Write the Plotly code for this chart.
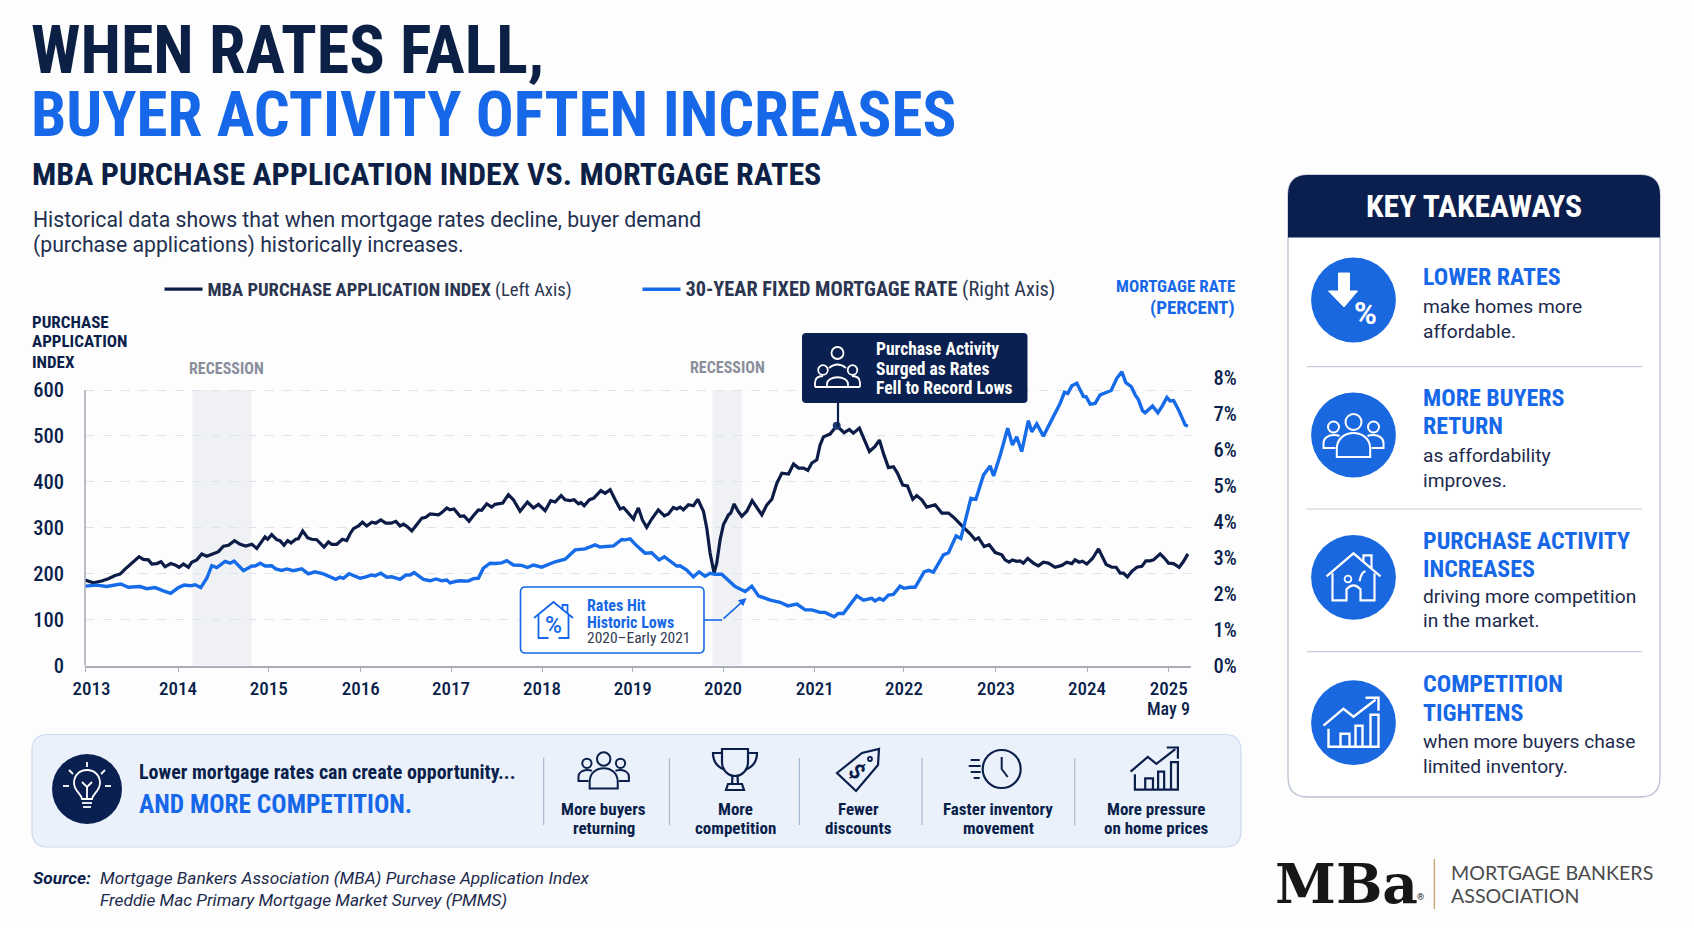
import plotly.graph_objects as go

# series, x is decimal year
index_years = [
    2013.000, 2013.092, 2013.183, 2013.256, 2013.330, 2013.385, 2013.440, 2013.495, 2013.549, 2013.593, 2013.641, 2013.696,
    2013.733, 2013.788, 2013.835, 2013.879, 2013.941, 2013.989, 2014.033, 2014.081, 2014.136, 2014.172, 2014.227, 2014.282,
    2014.337, 2014.410, 2014.465, 2014.520, 2014.575, 2014.641, 2014.703, 2014.766, 2014.832, 2014.886, 2014.960,
    2014.976, 2015.005, 2015.049, 2015.104, 2015.141, 2015.185, 2015.225, 2015.262, 2015.313, 2015.342, 2015.390, 2015.445,
    2015.489, 2015.544, 2015.580, 2015.624, 2015.672, 2015.709, 2015.764, 2015.826, 2015.873, 2015.910, 2015.947, 2016.002,
    2016.046, 2016.093, 2016.148, 2016.192, 2016.247, 2016.302, 2016.361, 2016.412, 2016.459, 2016.496, 2016.533, 2016.588,
    2016.643, 2016.698, 2016.742, 2016.789, 2016.881, 2016.917, 2016.972,
    2017.007, 2017.051, 2017.117, 2017.161, 2017.216, 2017.263, 2017.318, 2017.355, 2017.410, 2017.465, 2017.501, 2017.586,
    2017.648, 2017.703, 2017.776, 2017.857, 2017.923, 2017.978, 2018.051, 2018.113, 2018.161, 2018.227, 2018.271, 2018.326,
    2018.370, 2018.417, 2018.443, 2018.480, 2018.538, 2018.582, 2018.619, 2018.663, 2018.710, 2018.765, 2018.820, 2018.875,
    2018.912, 2018.967, 2019.022,
    2019.038, 2019.075, 2019.119, 2019.166, 2019.221, 2019.294, 2019.360, 2019.404, 2019.459, 2019.496, 2019.533, 2019.569,
    2019.624, 2019.679, 2019.727, 2019.789, 2019.826, 2019.862, 2019.906, 2019.935, 2019.972, 2020.009, 2020.064, 2020.089,
    2020.126, 2020.166, 2020.210, 2020.265, 2020.324, 2020.375, 2020.430, 2020.485, 2020.540, 2020.595, 2020.650, 2020.723,
    2020.778, 2020.833, 2020.888, 2020.935, 2020.979, 2021.034,
    2021.069, 2021.106, 2021.179, 2021.252, 2021.333, 2021.391, 2021.435, 2021.501, 2021.545, 2021.611, 2021.673, 2021.721,
    2021.765, 2021.820, 2021.875, 2021.919, 2021.977, 2022.029, 2022.087, 2022.131, 2022.186, 2022.241, 2022.333, 2022.406,
    2022.479, 2022.534, 2022.644, 2022.717, 2022.772, 2022.809, 2022.871, 2022.926, 2022.992, 2023.065,
    2023.100, 2023.144, 2023.181, 2023.228, 2023.265, 2023.301, 2023.349, 2023.411, 2023.466, 2023.521, 2023.576, 2023.649,
    2023.723, 2023.778, 2023.833, 2023.869, 2023.913, 2023.950, 2023.997, 2024.060, 2024.126, 2024.162, 2024.210, 2024.272,
    2024.320, 2024.364, 2024.400, 2024.444, 2024.492, 2024.547, 2024.602, 2024.646, 2024.693, 2024.730, 2024.803, 2024.858,
    2024.895, 2024.950, 2025.012, 2025.060, 2025.107,
]
index_values = [
    186, 180, 184, 189, 196, 199, 210, 219, 230, 237, 231, 230, 221, 222, 226, 215, 222, 219, 214, 221, 214, 225, 230, 243,
    238, 244, 248, 260, 262, 272, 264, 260, 264, 255, 277,
    280, 275, 285, 274, 272, 262, 272, 267, 275, 276, 293, 278, 275, 274, 267, 258, 269, 264, 264, 275, 272, 287, 298, 304,
    312, 304, 312, 310, 317, 310, 310, 314, 304, 308, 303, 293, 307, 321, 323, 330, 328, 333, 343,
    339, 341, 325, 326, 314, 326, 339, 338, 352, 345, 351, 354, 372, 361, 336, 356, 343, 351, 337, 359, 356, 370, 361, 359,
    361, 352, 355, 348, 361, 364, 372, 381, 375, 383, 361, 341, 344, 332, 319,
    328, 343, 317, 301, 319, 339, 326, 330, 344, 341, 345, 339, 350, 348, 362, 336, 299, 245, 201, 223, 274, 307, 328, 332,
    352, 337, 325, 336, 359, 343, 328, 350, 362, 397, 419, 417, 439, 430, 430, 425, 441, 448,
    480, 498, 504, 522, 507, 514, 506, 517, 495, 466, 477, 491, 462, 431, 433, 419, 393, 391, 362, 370, 361, 345, 350, 332,
    332, 323, 301, 287, 274, 278, 259, 263, 246, 241,
    230, 225, 230, 227, 228, 223, 233, 223, 217, 225, 223, 214, 218, 225, 222, 230, 225, 227, 221, 233, 254, 238, 220, 214,
    214, 201, 201, 193, 205, 214, 216, 228, 228, 230, 243, 232, 223, 222, 214, 227, 243,
]
rate_years = [
    2013.000, 2013.128, 2013.238, 2013.311, 2013.392, 2013.476, 2013.604, 2013.678, 2013.769, 2013.861, 2013.941, 2014.026,
    2014.088, 2014.154, 2014.209, 2014.271, 2014.337, 2014.392, 2014.447, 2014.538, 2014.593, 2014.637, 2014.740, 2014.832,
    2014.868, 2014.923, 2014.978,
    2015.049, 2015.093, 2015.159, 2015.214, 2015.287, 2015.379, 2015.452, 2015.525, 2015.617, 2015.753, 2015.800, 2015.837,
    2015.899, 2015.958, 2016.020, 2016.075, 2016.141, 2016.185, 2016.247, 2016.313, 2016.368, 2016.459, 2016.522, 2016.569,
    2016.613, 2016.716, 2016.789, 2016.855, 2016.917, 2016.972,
    2017.007, 2017.062, 2017.117, 2017.208, 2017.263, 2017.318, 2017.373, 2017.447, 2017.501, 2017.575, 2017.630, 2017.703,
    2017.795, 2017.857, 2017.923, 2018.014, 2018.106, 2018.161, 2018.271, 2018.381, 2018.490, 2018.600, 2018.655, 2018.747,
    2018.802, 2018.893, 2018.930, 2018.985,
    2019.038, 2019.148, 2019.221, 2019.302, 2019.360, 2019.496, 2019.533, 2019.606, 2019.679, 2019.741, 2019.807, 2019.862,
    2019.917, 2019.990, 2020.064, 2020.137, 2020.247, 2020.320, 2020.393, 2020.522, 2020.631, 2020.716, 2020.815, 2020.906,
    2020.979,
    2021.069, 2021.124, 2021.223, 2021.270, 2021.325, 2021.472, 2021.545, 2021.637, 2021.673, 2021.721, 2021.765, 2021.820,
    2021.875, 2021.948, 2021.992, 2022.058, 2022.113, 2022.212, 2022.259, 2022.314, 2022.424, 2022.479, 2022.563, 2022.615,
    2022.662, 2022.725, 2022.780, 2022.864, 2022.937, 2022.974, 2023.047,
    2023.100, 2023.129, 2023.181, 2023.228, 2023.283, 2023.356, 2023.393, 2023.448, 2023.521, 2023.576, 2023.613, 2023.668,
    2023.704, 2023.752, 2023.789, 2023.833, 2023.888, 2023.961, 2023.990, 2024.034, 2024.089, 2024.144, 2024.192, 2024.265,
    2024.327, 2024.382, 2024.426, 2024.485, 2024.529, 2024.565, 2024.609, 2024.638, 2024.719, 2024.778, 2024.822, 2024.877,
    2024.913, 2024.950, 2025.005, 2025.041, 2025.078, 2025.107,
]
rate_values = [
    2.21, 2.24, 2.20, 2.23, 2.27, 2.18, 2.20, 2.14, 2.17, 2.08, 2.01, 2.17, 2.24, 2.22, 2.25, 2.17, 2.43, 2.78, 2.73, 2.90,
    2.85, 2.91, 2.64, 2.77, 2.77, 2.85, 2.77,
    2.78, 2.69, 2.65, 2.69, 2.64, 2.69, 2.55, 2.61, 2.55, 2.40, 2.46, 2.43, 2.56, 2.50, 2.43, 2.46, 2.52, 2.50, 2.57, 2.46,
    2.47, 2.40, 2.52, 2.52, 2.59, 2.40, 2.36, 2.41, 2.36, 2.38,
    2.30, 2.34, 2.36, 2.35, 2.42, 2.43, 2.71, 2.85, 2.84, 2.86, 2.92, 2.80, 2.79, 2.73, 2.80, 2.74, 2.83, 2.89, 2.96, 3.22,
    3.25, 3.36, 3.30, 3.33, 3.33, 3.51, 3.50, 3.53,
    3.38, 3.13, 3.14, 2.94, 3.03, 2.77, 2.78, 2.66, 2.47, 2.61, 2.49, 2.57, 2.54, 2.54, 2.36, 2.20, 2.06, 2.21, 1.94, 1.82,
    1.76, 1.66, 1.71, 1.55, 1.55,
    1.48, 1.48, 1.36, 1.45, 1.45, 1.94, 1.82, 1.87, 1.80, 1.87, 1.82, 1.96, 1.98, 2.21, 2.15, 2.18, 2.18, 2.61, 2.65, 2.60,
    3.08, 3.14, 3.61, 3.54, 4.01, 4.66, 4.63, 5.31, 5.56, 5.28, 5.86,
    6.37, 6.61, 6.14, 6.37, 5.96, 6.82, 6.51, 6.73, 6.39, 6.67, 6.84, 7.12, 7.30, 7.61, 7.58, 7.79, 7.86, 7.49, 7.49, 7.28,
    7.30, 7.54, 7.58, 7.66, 8.00, 8.18, 7.88, 7.77, 7.54, 7.40, 7.10, 7.04, 7.23, 7.04, 7.21, 7.47, 7.37, 7.38, 7.12, 6.93,
    6.70, 6.67,
]
peak_year = [2021.252]
peak_value = [522]
recession_starts = [2014.178, 2019.887]
recession_ends = [2014.830, 2020.210]

# ticks as they sit in the picture, the last one is squeezed in well before the real year
year_ticks = [2013, 2014.021, 2015.017, 2016.027, 2017.018, 2018.017, 2019.013, 2020.004, 2021.01, 2021.99, 2023, 2024, 2024.896]
year_labels = ["\u00a0\u00a0\u00a02013", "2014", "2015", "2016", "2017", "2018", "2019", "2020", "2021", "2022", "2023", "2024", "2025"]
index_ticks = [0, 100, 200, 300, 400, 500, 600]
rate_ticks = [0, 1, 2, 3, 4, 5, 6, 7, 8]
rate_labels = ["0%", "1%", "2%", "3%", "4%", "5%", "6%", "7%", "8%"]

W, H = 1694, 928
NAVY = "#0b1f4b"
DARK = "#0a2050"
BLUE = "#1668e8"
CIRCLE = "#1a68e0"
GRID = "#dfe3ee"
NARROW = "Roboto Condensed"
BODY = "Roboto"

shapes = []
annotations = []


def text(x, y, s, size, color=NAVY, font=NARROW, weight=400, anchor="left", style="normal", angle=0):
    annotations.append(dict(x=x, y=y, xref="x2", yref="y3", text=s, showarrow=False, xanchor=anchor, yanchor="middle",
                            align=anchor, borderpad=0, textangle=angle,
                            font=dict(family=font, size=size, color=color, weight=weight, style=style)))


def add(**kw):
    shapes.append(dict(xref="x2", yref="y3", layer="above", **kw))


def line(x0, y0, x1, y1, color, width=1.5):
    add(type="line", x0=x0, y0=y0, x1=x1, y1=y1, line=dict(color=color, width=width))


def circle(cx, cy, r, fill=None, color=None, width=2):
    add(type="circle", x0=cx - r, y0=cy - r, x1=cx + r, y1=cy + r, fillcolor=fill or "rgba(0,0,0,0)",
        line=dict(color=color or "rgba(0,0,0,0)", width=width))


def rrect(x0, y0, x1, y1, r, fill, color=None, width=1.2, bottom=True):
    low = f"L{x1} {y1 - r} Q{x1} {y1} {x1 - r} {y1} L{x0 + r} {y1} Q{x0} {y1} {x0} {y1 - r}" if bottom else f"L{x1} {y1} L{x0} {y1}"
    path = f"M{x0 + r} {y0} L{x1 - r} {y0} Q{x1} {y0} {x1} {y0 + r} {low} L{x0} {y0 + r} Q{x0} {y0} {x0 + r} {y0} Z"
    add(type="path", path=path, fillcolor=fill, line=dict(color=color or "rgba(0,0,0,0)", width=width))


def icon(parts, cx, cy, s, color, width=2, fill=None):
    # each part is a small svg path around 0,0, moved to cx,cy and scaled by s
    for part in parts:
        out = []
        xy = 0
        for tok in part.split():
            if tok.isalpha():
                out.append(tok)
                xy = 0
            else:
                base = cx if xy % 2 == 0 else cy
                out.append(f"{base + float(tok) * s:.2f}")
                xy += 1
        add(type="path", path=" ".join(out), fillcolor=fill or "rgba(0,0,0,0)", line=dict(color=color, width=width))


def people(cx, cy, s, color, width=2):
    circle(cx, cy - 13 * s, 8 * s, color=color, width=width)
    circle(cx - 20 * s, cy - 8 * s, 5.5 * s, color=color, width=width)
    circle(cx + 20 * s, cy - 8 * s, 5.5 * s, color=color, width=width)
    icon(["M -16.7 22 L -16.7 14 C -16.7 3 -8 -2 0 -2 C 8 -2 16.7 3 16.7 14 L 16.7 22 Z",
          "M -18 13 L -30 13 L -30 8 C -30 3 -25 0 -20 0 C -18 0 -16 0 -14 1",
          "M 18 13 L 30 13 L 30 8 C 30 3 25 0 20 0 C 18 0 16 0 14 1"], cx, cy, s, color, width)


def house_chart(cx, cy, s, color, width=2):
    icon(["M -30 3 L -10 -14 L 0 -6 L 22 -23", "M 12 -25 L 25 -25 L 25 -12",
          "M -25 6 L -25 24 L 25 24 L 25 -8 L 17 -8 L 17 24", "M -13 24 L -13 11 L -4 11 L -4 24",
          "M 2 24 L 2 3 L 9 3 L 9 24"], cx, cy, s, color, width)


# page headings
text(30, 50, "<b>WHEN RATES FALL,</b>", 66, "#0c1f45")
text(30, 114, "<b>BUYER ACTIVITY OFTEN INCREASES</b>", 63, BLUE)
text(31, 174, "<b>MBA PURCHASE APPLICATION INDEX VS. MORTGAGE RATES</b>", 32, "#0c1f45")
text(32, 219, "Historical data shows that when mortgage rates decline, buyer demand", 21.2, "#22304f", BODY)
text(32, 245, "(purchase applications) historically increases.", 21.2, "#22304f", BODY)

# axis captions
for y, s in zip([322, 341, 362], ["PURCHASE", "APPLICATION", "INDEX"]):
    text(31, y, f"<b>{s}</b>", 17)
text(1236, 286, "<b>MORTGAGE RATE</b>", 17, BLUE, anchor="right")
text(1236, 307, "<b>(PERCENT)</b>", 19, BLUE, anchor="right")
text(226, 368, "<b>RECESSION</b>", 16, "#8a8f9b", anchor="center")
text(727, 367, "<b>RECESSION</b>", 16, "#8a8f9b", anchor="center")
text(1168, 708, "May 9", 18, NAVY, weight=500, anchor="center")
line(85, 390, 85, 665.5, "#a9adb8", 1.6)

# peak callout
rrect(802, 333, 1027.5, 403, 4, DARK)
line(838, 403, 838, 427, DARK, 2.2)
circle(837.5, 353, 6, color="white", width=1.8)
circle(823, 370, 4.8, color="white", width=1.8)
circle(852.5, 370, 4.8, color="white", width=1.8)
icon(["M -10.5 17 L -10.5 14 C -10.5 5 10.5 5 10.5 14 L 10.5 17 Z", "M -8.5 -2 Q 0 -9 8.5 -2",
      "M -22.5 17 L -22.5 13 C -22.5 8 -19 6 -14.5 6", "M 22.5 17 L 22.5 13 C 22.5 8 19 6 14.5 6", "M -22.5 17 L 22.5 17"],
     837.5, 370, 1, "white", 1.8)
for y, s in zip([349, 368.7, 387.7], ["Purchase Activity", "Surged as Rates", "Fell to Record Lows"]):
    text(875, y, f"<b>{s}</b>", 17.5, "white")

# low rates callout
rrect(520.5, 587, 704, 653, 5, "white", BLUE, 1.6)
icon(["M -19.5 -2 L 0 -18 L 19.5 -2", "M -15 -5 L -15 18 L -5 18", "M 5 18 L 15 18 L 15 -5", "M 9 -10 L 9 -15 L 14 -15 L 14 -6"],
     553.5, 620, 1, BLUE, 1.8)
text(553.5, 625, "%", 23, BLUE, BODY, 500, anchor="center")
text(586, 605, "<b>Rates Hit</b>", 16, BLUE)
text(586, 622, "<b>Historic Lows</b>", 16, BLUE)
text(586, 638, "2020–Early 2021", 15.5, "#333c52")
line(704, 620, 722, 620, BLUE, 1.6)
annotations.append(dict(x=746.5, y=598, ax=722, ay=620, xref="x2", yref="y3", axref="x2", ayref="y3", text="", showarrow=True,
                        arrowhead=2, arrowsize=1, arrowwidth=1.6, arrowcolor=BLUE))

# bottom strip
rrect(32, 734.5, 1241, 847, 16, "#eaf1fb", "#cdd9ee", 1.2)
circle(87, 789, 35, fill=DARK)
icon(["M -5 10 C -6 4 -13 2 -13 -6 C -13 -14 -7 -19 0 -19 C 7 -19 13 -14 13 -6 C 13 2 6 4 5 10 Z", "M -5 14 L 5 14", "M -4 18 L 4 18",
      "M 0 10 L 0 -2", "M -5 -7 L 0 -2 L 5 -7", "M 0 -27 L 0 -22", "M -24 -3 L -18 -3", "M 24 -3 L 18 -3",
      "M -18 -19 L -14 -15", "M 18 -19 L 14 -15"], 87, 789, 1, "white", 1.8)
text(138, 772, "<b>Lower mortgage rates can create opportunity...</b>", 20)
text(138, 804, "<b>AND MORE COMPETITION.</b>", 25.4, BLUE)
for x in [543.7, 669.5, 799.4, 922, 1074.7]:
    line(x, 758, x, 825, "#a9b6cf", 1.2)

people(603.7, 770, 0.84, NAVY, 2)
# trophy
icon(["M -13 -21 L 13 -21 L 13 -8 C 13 1 6 6 0 6 C -6 6 -13 1 -13 -8 Z", "M -13 -17 L -22 -17 C -22 -8 -18 -3 -10 0",
      "M 13 -17 L 22 -17 C 22 -8 18 -3 10 0", "M -2.5 6 L -3 14", "M 2.5 6 L 3 14", "M -9 20 L 9 20 L 7 14 L -7 14 Z"],
     735, 770, 1, NAVY, 2.2)
# price tag
icon(["M -21 3 L 4 -17 L 21 -21 L 20 -5 L -2 21 Z"], 858, 770, 1, NAVY, 2.2)
circle(870, 759, 2, color=NAVY, width=1.8)
text(857, 771, "<b>$</b>", 22, NAVY, BODY, anchor="center", angle=38, style="italic")
# clock
circle(1001.7, 769, 19, color=NAVY, width=2.2)
icon(["M 0 -12 L 0 0 L 6 8", "M -31 -9 L -22 -9", "M -33 -3 L -21 -3", "M -31 3 L -21 3", "M -28 9 L -22 9"], 1001.7, 769, 1, NAVY, 2)
house_chart(1156.4, 769, 0.86, NAVY, 2.2)

for x, a, b in [(603.7, "More buyers", "returning"), (735, "More", "competition"), (858, "Fewer", "discounts"),
                (998, "Faster inventory", "movement"), (1156.4, "More pressure", "on home prices")]:
    text(x, 808.5, f"<b>{a}</b>", 17, anchor="center")
    text(x, 827.5, f"<b>{b}</b>", 17, anchor="center")

# source and logo
text(32, 878, "<b>Source:</b>", 17.3, NAVY, BODY, style="italic")
text(99, 878, "Mortgage Bankers Association (MBA) Purchase Application Index", 17.3, "#1c2a4c", BODY, style="italic")
text(99, 900, "Freddie Mac Primary Mortgage Market Survey (PMMS)", 17.3, "#1c2a4c", BODY, style="italic")
text(1274, 883, "<b>MBa</b>", 55, "#171717", "DejaVu Serif")
text(1416, 897, "®", 9, "#171717", BODY)
line(1434.4, 859, 1434.4, 909, "#c9a878", 1.4)
text(1450, 872.5, "MORTGAGE BANKERS", 19.6, "#4a4a4a", "Lato")
text(1450, 895, "ASSOCIATION", 19.6, "#4a4a4a", "Lato")

# takeaways panel
rrect(1288, 175, 1660, 797, 20, "white", "#b8c0d0", 1.3)
rrect(1288, 175, 1660, 237.5, 20, "#0a1f4e", bottom=False)
text(1474, 206, "<b>KEY TAKEAWAYS</b>", 31.7, "white", anchor="center")
for y in [366.7, 509, 651.7]:
    line(1306.7, y, 1642, y, "#c5ccda", 1.2)
takeaways = [
    (300, [(277.3, "LOWER RATES")], [(306.7, "make homes more"), (331.7, "affordable.")]),
    (435, [(397.7, "MORE BUYERS"), (426, "RETURN")], [(455, "as affordability"), (480, "improves.")]),
    (577.3, [(540.7, "PURCHASE ACTIVITY"), (569, "INCREASES")], [(596, "driving more competition"), (620.7, "in the market.")]),
    (722.7, [(684, "COMPETITION"), (712.7, "TIGHTENS")], [(741.7, "when more buyers chase"), (766.7, "limited inventory.")]),
]
for cy, heads, lines in takeaways:
    circle(1353.5, cy, 42.4, fill=CIRCLE)
    for y, s in heads:
        text(1422, y, f"<b>{s}</b>", 24, BLUE)
    for y, s in lines:
        text(1422, y, s, 19.2, "#1c2a4c", BODY)

icon(["M -15 -27 L -4 -27 L -4 -9 L 4 -9 L -9.5 7 L -25 -9 L -15 -9 Z"], 1353.5, 300, 1, "white", 1, fill="white")
text(1365, 313, "<b>%</b>", 31, "white", BODY, anchor="center")
people(1353.5, 435, 1, "white", 2)
icon(["M -27 -1 L 0 -24 L 27 -1", "M 10 -16 L 10 -22 L 18 -22 L 18 -9", "M -21 -4 L -21 23 L -7 23 L -7 12 Q 0 4 7 12 L 7 23 L 21 23 L 21 -4",
      "M 6 4 Q 8 -6 12 -6"], 1353.5, 577.3, 1, "white", 2.2)
circle(1348, 579, 3.4, color="white", width=1.8)
house_chart(1353.5, 722.7, 1, "white", 2.4)

fig = go.Figure()
fig.add_trace(go.Scatter(x=index_years, y=index_values, mode="lines", name="<b>MBA PURCHASE APPLICATION INDEX</b> (Left Axis)",
                         line=dict(color="#0c1c47", width=3.2), xaxis="x", yaxis="y"))
fig.add_trace(go.Scatter(x=rate_years, y=rate_values, mode="lines",
                         name='<span style="font-size:20.3px"><b>30-YEAR FIXED MORTGAGE RATE</b> (Right Axis)</span>',
                         line=dict(color="#166be8", width=3.4), xaxis="x", yaxis="y2"))
fig.add_trace(go.Scatter(x=peak_year, y=peak_value, mode="markers", marker=dict(color="#1c3a74", size=8), showlegend=False,
                         xaxis="x", yaxis="y"))

for x0, x1 in zip(recession_starts, recession_ends):
    shapes.append(dict(type="rect", xref="x", yref="y", x0=x0, x1=x1, y0=0, y1=600, layer="below",
                       fillcolor="#eff1f5", line=dict(width=0)))

tick_font = dict(family=NARROW, size=20.5, color=NAVY, weight=500)
fig.update_layout(
    width=W, height=H, margin=dict(l=0, r=0, t=0, b=0, autoexpand=False), paper_bgcolor="#fdfdfe", plot_bgcolor="rgba(0,0,0,0)",
    shapes=shapes, annotations=annotations, hovermode=False,
    legend=dict(orientation="h", x=159.5 / W, y=1 - 270.6 / H, xanchor="left", yanchor="top", itemwidth=38, entrywidth=425,
                entrywidthmode="pixels", bgcolor="rgba(0,0,0,0)", font=dict(family=NARROW, size=18.6, color="#2b3550")),
    xaxis=dict(domain=[85 / W, 1190.6 / W], range=[2013, 2025.137], tickmode="array", tickvals=year_ticks, ticktext=year_labels,
               ticks="outside", ticklen=5, tickcolor="#a9adb8", tickwidth=1.4, showline=True, linecolor="#a9adb8", linewidth=1.6,
               showgrid=False, zeroline=False, tickfont=dict(family=NARROW, size=19, color=NAVY, weight=500), anchor="y"),
    yaxis=dict(domain=[1 - 665.5 / H, 1 - 366 / H], range=[0, 652.3], tickmode="array", tickvals=index_ticks, showgrid=True,
               gridcolor=GRID, griddash="dash", gridwidth=1.2, zeroline=False, ticks="", ticklabelstandoff=20, tickfont=tick_font, anchor="x"),
    yaxis2=dict(domain=[1 - 665.5 / H, 1 - 366 / H], range=[0, 8.343], overlaying="y", side="right", tickmode="array", tickvals=rate_ticks,
                ticktext=rate_labels, showgrid=False, zeroline=False, ticks="", ticklabelstandoff=22, tickfont=tick_font, anchor="x"),
    # full page overlay in pixels for the infographic parts around the chart
    xaxis2=dict(domain=[0, 1], range=[0, W], visible=False, fixedrange=True, anchor="y3"),
    yaxis3=dict(domain=[0, 1], range=[H, 0], visible=False, fixedrange=True, anchor="x2"),
)
# an empty trace keeps the overlay subplot alive
fig.add_trace(go.Scatter(x=[], y=[], xaxis="x2", yaxis="y3", showlegend=False))

fig.write_html("out.html", config={"displayModeBar": False}, post_script="document.body.style.margin='0';")
